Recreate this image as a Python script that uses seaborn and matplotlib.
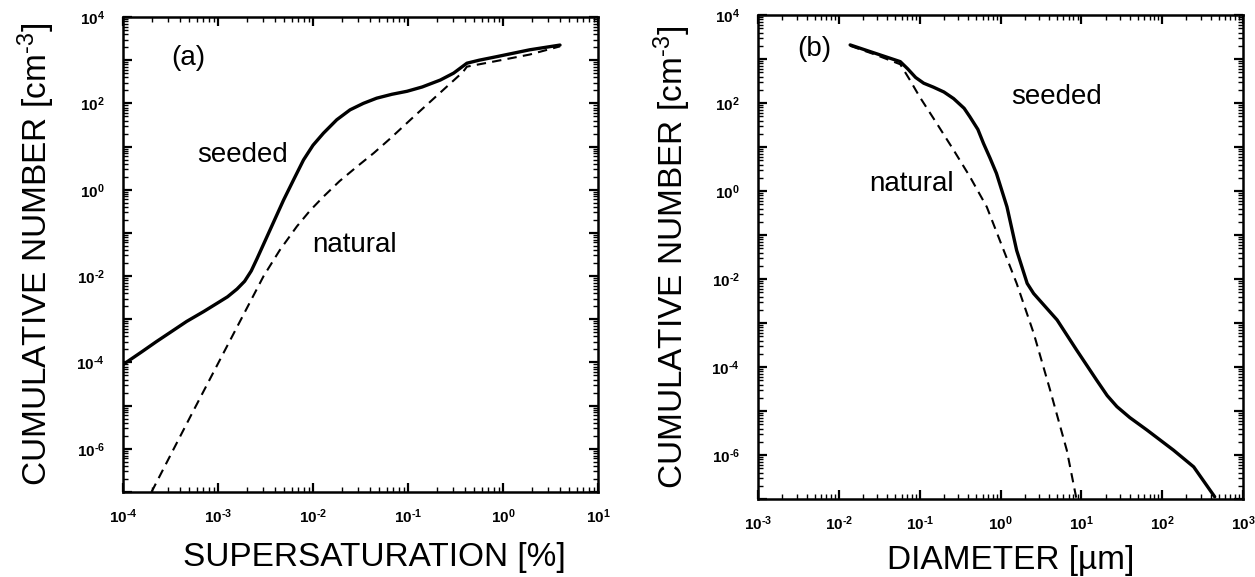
import numpy as np
import pandas as pd
import matplotlib
matplotlib.use("Agg")
import matplotlib.pyplot as plt
import seaborn as sns
from matplotlib.ticker import FixedLocator, FixedFormatter, LogLocator, NullFormatter

# ---------------- data (log10 values) ----------------
# panel (a): cumulative number vs supersaturation
a_seeded_logx = [-4.0, -3.80, -3.65, -3.50, -3.33, -3.15, -3.01, -2.90, -2.80, -2.72,
                 -2.65, -2.59, -2.45, -2.31, -2.20, -2.10, -2.00, -1.89, -1.75, -1.61,
                 -1.47, -1.33, -1.17, -1.01, -0.85, -0.66, -0.52, -0.38, -0.25, -0.07,
                 0.28, 0.60]
a_seeded_logy = [-4.05, -3.75, -3.52, -3.30, -3.05, -2.82, -2.63, -2.48, -2.30, -2.12,
                 -1.88, -1.60, -0.92, -0.24, 0.25, 0.69, 1.03, 1.31, 1.62, 1.85,
                 2.00, 2.12, 2.21, 2.28, 2.38, 2.54, 2.70, 2.93, 3.00, 3.08,
                 3.24, 3.35]
a_natural_logx = [-3.70, -3.29, -2.84, -2.52, -2.35, -2.17, -2.03, -1.89, -1.72, -1.54,
                  -1.36, -1.19, -0.94, -0.59, -0.42, -0.38, -0.07, 0.28, 0.60]
a_natural_logy = [-7.0, -5.25, -3.35, -2.00, -1.40, -0.85, -0.48, -0.16, 0.20, 0.53,
                  0.85, 1.18, 1.69, 2.39, 2.73, 2.85, 2.98, 3.13, 3.32]

# panel (b): cumulative number vs diameter
b_seeded_logx = [-1.86, -1.55, -1.24, -1.15, -1.05, -0.95, -0.83, -0.70, -0.58, -0.45,
                 -0.38, -0.28, -0.21, -0.13, -0.05, 0.08, 0.20, 0.33, 0.41, 0.55,
                 0.70, 0.94, 1.19, 1.32, 1.44, 1.60, 1.81, 2.14, 2.39, 2.65]
b_seeded_logy = [3.32, 3.13, 2.94, 2.78, 2.58, 2.45, 2.36, 2.25, 2.10, 1.88,
                 1.69, 1.40, 1.08, 0.75, 0.40, -0.36, -1.35, -2.10, -2.33, -2.62,
                 -2.93, -3.61, -4.30, -4.65, -4.90, -5.15, -5.43, -5.89, -6.27, -6.95]
b_natural_logx = [-1.86, -1.55, -1.24, -1.12, -1.00, -0.79, -0.58, -0.38, -0.17, 0.04,
                  0.20, 0.41, 0.61, 0.82, 0.94]
b_natural_logy = [3.30, 3.10, 2.88, 2.52, 2.14, 1.54, 0.93, 0.33, -0.36, -1.35,
                  -2.10, -3.23, -4.50, -5.89, -7.0]

x_ticks_a = [-4, -3, -2, -1, 0, 1]
x_ticks_b = [-3, -2, -1, 0, 1, 2, 3]
y_ticks = [-7, -6, -5, -4, -3, -2, -1, 0, 1, 2, 3, 4]
y_labelled = [-6, -4, -2, 0, 2, 4]

# ---------------- style ----------------
sns.set_theme(style="ticks")
plt.rcParams["font.family"] = ["Liberation Sans", "DejaVu Sans"]
plt.rcParams["mathtext.default"] = "regular"
for key in ["text.color", "axes.labelcolor", "xtick.color", "ytick.color", "axes.edgecolor"]:
    plt.rcParams[key] = "black"

W, H = 1255, 577
fig = plt.figure(figsize=(W / 100, H / 100), dpi=100)
fig.patch.set_facecolor("white")
ax1 = fig.add_axes([123 / W, 1 - 492 / H, 475 / W, 475 / H])
ax2 = fig.add_axes([758 / W, 1 - 499 / H, 485 / W, 484 / H])


def to_df(lx, ly):
    return pd.DataFrame({"x": 10.0 ** np.array(lx), "y": 10.0 ** np.array(ly)})


def draw(ax, sx, sy, nx, ny):
    sns.lineplot(data=to_df(sx, sy), x="x", y="y", ax=ax, color="black",
                 lw=2.4, sort=False, estimator=None, solid_joinstyle="round")
    sns.lineplot(data=to_df(nx, ny), x="x", y="y", ax=ax, color="black",
                 lw=1.5, sort=False, estimator=None, linestyle=(0, (4.5, 3.0)))


def tick_text(e):
    s = str(e).replace("-", "\u2010")
    return "$10^{%s}$" % s


def style_axes(ax, xt):
    ax.set_xscale("log")
    ax.set_yscale("log")
    ax.set_xlim(10.0 ** xt[0], 10.0 ** xt[-1])
    ax.set_ylim(10.0 ** y_ticks[0], 10.0 ** y_ticks[-1])
    ax.xaxis.set_major_locator(FixedLocator([10.0 ** e for e in xt]))
    ax.xaxis.set_major_formatter(FixedFormatter([tick_text(e) for e in xt]))
    ax.xaxis.set_minor_locator(LogLocator(base=10, subs=np.arange(2, 10), numticks=50))
    ax.xaxis.set_minor_formatter(NullFormatter())
    ax.yaxis.set_major_locator(FixedLocator([10.0 ** e for e in y_ticks]))
    ax.yaxis.set_major_formatter(FixedFormatter(
        [tick_text(e) if e in y_labelled else "" for e in y_ticks]))
    ax.yaxis.set_minor_locator(LogLocator(base=10, subs=np.arange(2, 10), numticks=50))
    ax.yaxis.set_minor_formatter(NullFormatter())
    ax.tick_params(which="both", direction="in", top=True, right=True, color="black")
    ax.tick_params(which="major", length=6.5, width=1.6)
    ax.tick_params(which="minor", length=3.5, width=1.0)
    ax.tick_params(axis="x", which="major", pad=11)
    ax.tick_params(axis="y", which="major", pad=13)
    for lab in ax.get_xticklabels() + ax.get_yticklabels():
        lab.set_fontweight("bold")
        lab.set_fontsize(11)
        lab.set_color("black")
    for sp in ax.spines.values():
        sp.set_linewidth(1.8)
        sp.set_color("black")
        sp.set_visible(True)
    ax.set_facecolor("white")


draw(ax1, a_seeded_logx, a_seeded_logy, a_natural_logx, a_natural_logy)
draw(ax2, b_seeded_logx, b_seeded_logy, b_natural_logx, b_natural_logy)
style_axes(ax1, x_ticks_a)
style_axes(ax2, x_ticks_b)

ylab = "CUMULATIVE NUMBER [cm$^{\u20103}$]"
lab_fs = 24
ax1.set_xlabel("SUPERSATURATION [%]", fontsize=lab_fs, va="center", color="black")
ax1.xaxis.set_label_coords(0.53, -0.138)
ax1.set_ylabel(ylab, fontsize=lab_fs, va="center", color="black")
ax1.yaxis.set_label_coords(-0.183, 0.5)
ax2.set_xlabel("DIAMETER [µm]", fontsize=lab_fs, va="center", color="black")
ax2.xaxis.set_label_coords(0.52, -0.128)
ax2.set_ylabel(ylab, fontsize=lab_fs, va="center", color="black")
ax2.yaxis.set_label_coords(-0.176, 0.5)

ann_fs = 20
ax1.text(10 ** -3.31, 10 ** 3.05, "(a)", fontsize=ann_fs, ha="center", va="center", color="black")
ax1.text(10 ** -2.745, 10 ** 0.80, "seeded", fontsize=ann_fs, ha="center", va="center", color="black")
ax1.text(10 ** -1.565, 10 ** -1.28, "natural", fontsize=ann_fs, ha="center", va="center", color="black")
ax2.text(10 ** -2.30, 10 ** 3.23, "(b)", fontsize=ann_fs, ha="center", va="center", color="black")
ax2.text(10 ** 0.69, 10 ** 2.13, "seeded", fontsize=ann_fs, ha="center", va="center", color="black")
ax2.text(10 ** -1.10, 10 ** 0.15, "natural", fontsize=ann_fs, ha="center", va="center", color="black")

fig.savefig("out.png", dpi=100, facecolor="white")
